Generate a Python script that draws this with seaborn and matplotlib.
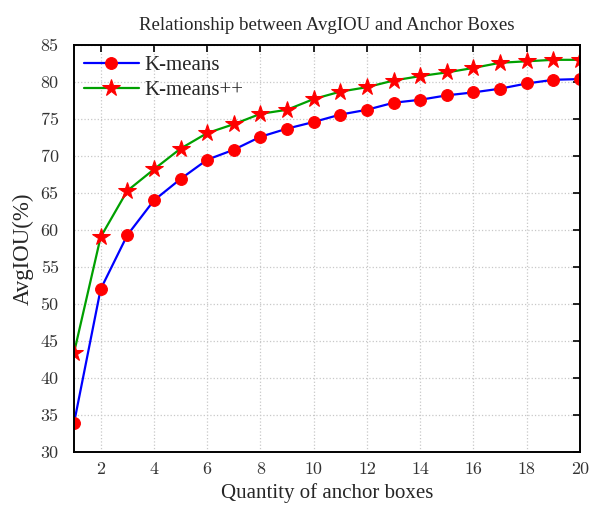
import matplotlib
matplotlib.use("Agg")
import matplotlib.pyplot as plt
import seaborn as sns
import pandas as pd

anchors = list(range(1, 21))
kmeans = [33.9, 52.0, 59.3, 64.0, 66.9, 69.5, 70.85, 72.6, 73.7, 74.6,
          75.6, 76.25, 77.2, 77.6, 78.2, 78.6, 79.1, 79.8, 80.3, 80.4]
kmeanspp = [43.4, 59.05, 65.3, 68.2, 71.0, 73.1, 74.3, 75.7, 76.25, 77.7,
            78.7, 79.3, 80.2, 80.8, 81.3, 81.9, 82.6, 82.8, 83.0, 83.0]
xticks = list(range(2, 21, 2))
yticks = list(range(30, 86, 5))

sns.set_theme(style="white")
plt.rcParams['font.family'] = ['Liberation Serif', 'DejaVu Serif']

df = pd.DataFrame({"x": anchors, "km": kmeans, "kmpp": kmeanspp})

fig = plt.figure(figsize=(5.9, 5.08), dpi=100)
ax = fig.add_axes([0.1254, 0.110, 0.8576, 0.8014])

sns.lineplot(data=df, x="x", y="km", ax=ax, color="#0000ff", lw=1.6,
             marker="o", markersize=8.5, markerfacecolor="red",
             markeredgecolor="red", label="K-means")
sns.lineplot(data=df, x="x", y="kmpp", ax=ax, color="#00a000", lw=1.6,
             marker="*", markersize=13, markerfacecolor="red",
             markeredgecolor="red", label="K-means++")

ax.set_xlim(1, 20)
ax.set_ylim(30, 85)
ax.set_xticks(xticks)
ax.set_yticks(yticks)
ax.grid(True, color="#c8c8c8", linestyle=":", linewidth=0.9)
for s in ax.spines.values():
    s.set_color("black")
    s.set_linewidth(1.4)
ax.tick_params(direction="in", top=True, right=True, length=5, width=1.2,
               labelsize=13, colors="black")
ax.tick_params(axis="y", pad=11)
ax.tick_params(axis="x", pad=7)
for lab in ax.get_xticklabels() + ax.get_yticklabels():
    lab.set_color("#333333")
    lab.set_fontfamily(["cmr10", "DejaVu Serif"])

ax.set_title("Relationship between AvgIOU and Anchor Boxes", fontsize=13.6, pad=11)
ax.set_xlabel("Quantity of anchor boxes", fontsize=15, labelpad=4)
ax.set_ylabel("AvgIOU(%)", fontsize=16.5, labelpad=5)

ax.legend(loc="upper left", frameon=False, fontsize=15, handlelength=2.6,
          borderaxespad=0.1, handletextpad=0.3, labelspacing=0.25)

fig.savefig("out.png", dpi=100)
